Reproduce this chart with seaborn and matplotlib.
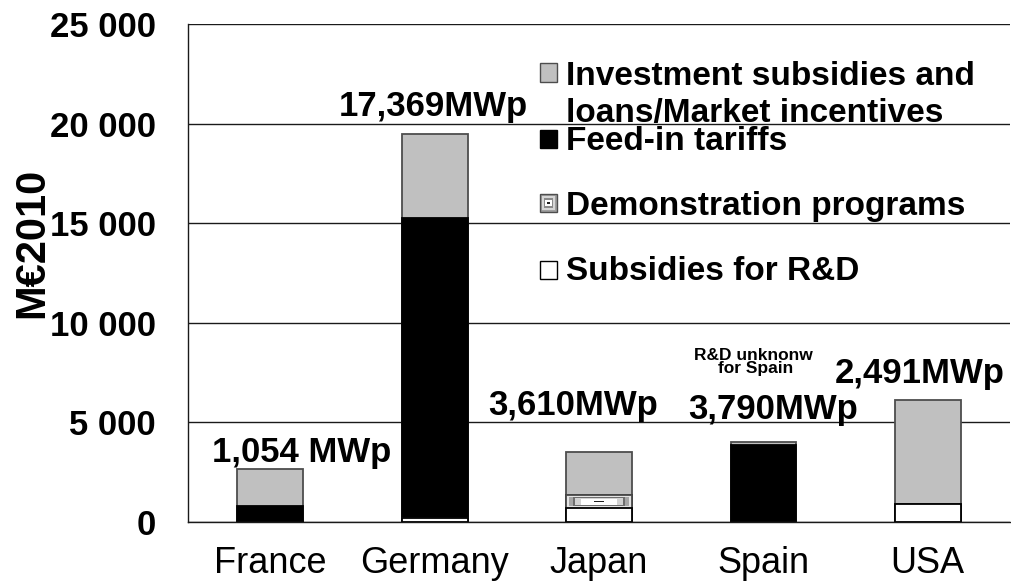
import numpy as np
import matplotlib
matplotlib.use("Agg")
import matplotlib.pyplot as plt
from matplotlib.patches import Rectangle
from matplotlib.ticker import FuncFormatter, FixedLocator
import seaborn as sns

# Public support for photovoltaics by country (M€2010)
countries = ["France", "Germany", "Japan", "Spain", "USA"]
rd_subsidies = [0, 200, 690, 0, 900]
demonstration = [0, 0, 670, 0, 0]
feed_in_tariffs = [790, 15050, 0, 3850, 0]
investment = [1880, 4250, 2165, 150, 5230]

# Installed capacity annotations
capacity_labels = ["1,054 MWp", "17,369MWp", "3,610MWp", "3,790MWp", "2,491MWp"]
capacity_label_x = [0.19, 0.995, 1.84, 3.056, 3.95]
capacity_label_y = [3030, 20380, 5370, 5150, 6960]

legend_labels = [
    ["Investment subsidies and", "loans/Market incentives"],
    ["Feed-in tariffs"],
    ["Demonstration programs"],
    ["Subsidies for R&D"],
]

sns.set_style("white")
plt.rcParams["font.family"] = ["Liberation Sans", "DejaVu Sans"]
plt.rcParams["text.color"] = "black"
plt.rcParams["axes.labelcolor"] = "black"
plt.rcParams["xtick.color"] = "black"
plt.rcParams["ytick.color"] = "black"

fig, ax = plt.subplots(figsize=(10.11, 5.85), dpi=100)
fig.subplots_adjust(left=0.186, right=0.999, bottom=0.1077, top=0.959)

rd = np.array(rd_subsidies, dtype=float)
demo_top = rd + np.array(demonstration, dtype=float)
feed_top = demo_top + np.array(feed_in_tariffs, dtype=float)
total = feed_top + np.array(investment, dtype=float)

# Stacked bars drawn back to front from cumulative totals
layers = [
    (total, "#c0c0c0", "#4d4d4d"),
    (feed_top, "#000000", "#000000"),
    (demo_top, "#bdbdbd", "#4d4d4d"),
    (rd, "#ffffff", "#000000"),
]
for vals, face, edge in layers:
    sns.barplot(x=countries, y=vals, color=face, edgecolor=edge, linewidth=1.3,
                width=0.4, saturation=1, errorbar=None, ax=ax, zorder=2)

# Concentric-rectangle fill for demonstration programs
def concentric_fill(x0, y0, w, h, steps, transform=None):
    for fx, fy, col in steps:
        kw = {} if transform is None else {"transform": transform}
        ax.add_patch(Rectangle((x0 + w * fx, y0 + h * fy), w * (1 - 2 * fx), h * (1 - 2 * fy),
                               facecolor=col, edgecolor="none", zorder=3, **kw))

bar_steps = [
    (0.01, 0.08, "#e4e4e4"),
    (0.05, 0.14, "#a6a6a6"),
    (0.10, 0.18, "#6e6e6e"),
    (0.14, 0.22, "#d2d2d2"),
    (0.22, 0.28, "#ffffff"),
    (0.42, 0.44, "#202020"),
]
demo_bars = ax.containers[2]
for i, patch in enumerate(demo_bars.patches):
    if demonstration[i] > 0:
        concentric_fill(patch.get_x(), rd[i], patch.get_width(), demonstration[i], bar_steps)

ax.set_xlim(-0.5, 4.5)
ax.set_ylim(0, 25000)
ax.set_yticks(np.arange(0, 25001, 5000))
ax.yaxis.set_major_formatter(FuncFormatter(lambda v, p: f"{int(v):,}".replace(",", " ")))
ax.yaxis.grid(True, color="#1a1a1a", linewidth=1.0)
ax.xaxis.grid(False)
ax.set_axisbelow(True)

for side in ["top", "right"]:
    ax.spines[side].set_visible(False)
for side in ["left", "bottom"]:
    ax.spines[side].set_color("#1a1a1a")
    ax.spines[side].set_linewidth(1.0)

ax.tick_params(axis="y", which="major", direction="inout", length=16, width=1.0,
               color="#1a1a1a", labelcolor="black", pad=15, labelsize=25)
for lbl in ax.get_yticklabels():
    lbl.set_fontweight("bold")
ax.tick_params(axis="x", which="major", length=0, pad=17, labelsize=26, labelcolor="black")
ax.xaxis.set_minor_locator(FixedLocator(np.arange(-0.5, 4.6, 1.0)))
ax.tick_params(axis="x", which="minor", direction="out", length=5.5, width=1.0, color="#1a1a1a")
ax.set_xlabel("")

ax.set_ylabel("M€2010", fontsize=30, fontweight="bold", color="black")
ax.yaxis.set_label_coords(-0.165, 0.56)

# Installed capacity annotations
for txt, x, y in zip(capacity_labels, capacity_label_x, capacity_label_y):
    ax.text(x, y, txt, ha="center", va="baseline", fontsize=25, fontweight="bold",
            color="black", zorder=5)

ax.text(2.94, 8130, "R&D unknonw", ha="center", va="baseline", fontsize=12.5,
        fontweight="bold", color="black")
ax.text(2.955, 7465, "for Spain", ha="center", va="baseline", fontsize=12.5,
        fontweight="bold", color="black")

# Legend drawn in axes coordinates
sq_x, sq_w, sq_h = 0.428, 0.021, 0.037
text_x = 0.460
entries = [
    ("#c0c0c0", "#4d4d4d", 0.8845, [0.8775, 0.804]),
    ("#000000", "#000000", 0.750, [0.747]),
    ("demo", "#4d4d4d", 0.622, [0.6165]),
    ("#ffffff", "#000000", 0.488, [0.486]),
]
legend_steps = [
    (0.0, 0.0, "#a0a0a0"),
    (0.12, 0.12, "#d6d6d6"),
    (0.24, 0.24, "#8a8a8a"),
    (0.32, 0.32, "#ffffff"),
    (0.42, 0.42, "#202020"),
]
for (face, edge, sq_y, text_ys), lines in zip(entries, legend_labels):
    if face == "demo":
        concentric_fill(sq_x, sq_y, sq_w, sq_h, legend_steps, transform=ax.transAxes)
        ax.add_patch(Rectangle((sq_x, sq_y), sq_w, sq_h, transform=ax.transAxes,
                               facecolor="none", edgecolor=edge, linewidth=1.0, zorder=4))
    else:
        ax.add_patch(Rectangle((sq_x, sq_y), sq_w, sq_h, transform=ax.transAxes,
                               facecolor=face, edgecolor=edge, linewidth=1.0, zorder=4))
    for line, ty in zip(lines, text_ys):
        ax.text(text_x, ty, line, transform=ax.transAxes, ha="left", va="baseline",
                fontsize=24, fontweight="bold", color="black", zorder=5)

fig.savefig("out.png", dpi=100)
